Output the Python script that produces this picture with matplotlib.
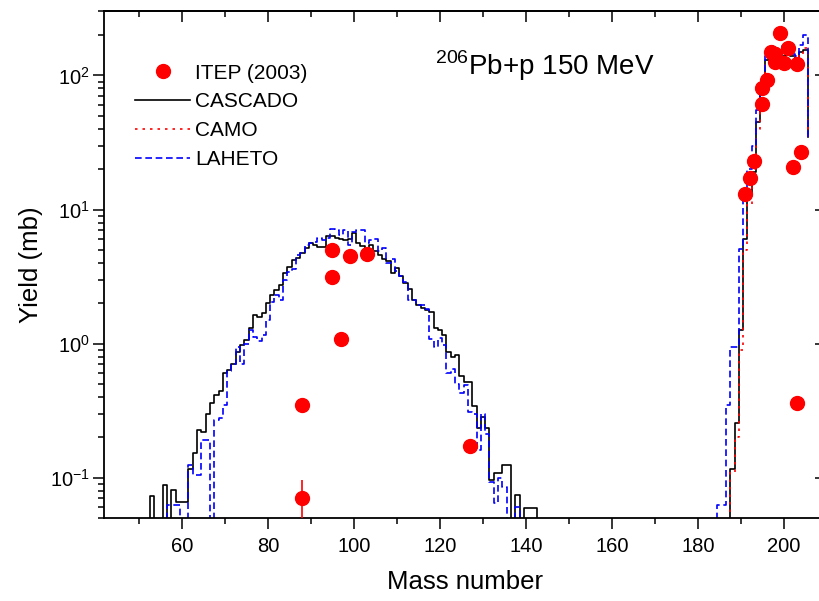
import numpy as np
import matplotlib
matplotlib.use("Agg")
import matplotlib.pyplot as plt
from matplotlib.ticker import LogLocator, MultipleLocator, NullFormatter

plt.rcParams["font.family"] = ["Liberation Sans", "DejaVu Sans"]
plt.rcParams["axes.unicode_minus"] = False

# ITEP (2003) measured yields, mass number / mb
itep_mass = [88, 88, 95, 95, 97, 99, 103, 127,
             191, 192, 193, 195, 195, 196, 197, 198, 198, 199, 200, 201, 202, 203, 203, 204]
itep_yield = [0.35, 0.07, 4.98, 3.13, 1.08, 4.5, 4.65, 0.172,
              13.0, 17.3, 23.0, 61.0, 81.0, 92.0, 150.0, 145.0, 127.0, 209.0, 123.0, 161.0,
              20.8, 121.0, 0.36, 26.7]
err_mass = [88]
err_yield = [0.07]
err_low = [0.069]
err_high = [0.026]

# fission region, bins centred on integer masses starting at 52
fis_start = 52
cascado_fis = [0, 0.073, 0, 0, 0.088, 0, 0.081, 0.066, 0.066, 0.066,
               0.117, 0.152, 0.226, 0.22, 0.30, 0.36, 0.41, 0.44, 0.60, 0.635,
               0.71, 0.87, 0.975, 1.06, 1.30, 1.63, 1.59, 1.70, 2.0, 2.3,
               2.5, 2.73, 3.34, 3.74, 4.2, 4.32, 4.71, 5.13, 5.59, 5.4,
               5.27, 5.27, 6.34, 6.34, 6.1, 6.0, 5.9, 6.0, 6.7, 5.59,
               5.3, 4.71, 5.4, 4.9, 4.6, 4.25, 4.1, 3.34, 3.64, 3.2,
               2.82, 2.54, 2.11, 1.94, 1.83, 1.78, 1.73, 1.30, 1.26, 1.15,
               0.87, 0.80, 0.82, 0.57, 0.52, 0.52, 0.34, 0.233, 0.284, 0.233,
               0.096, 0.108, 0.108, 0.124, 0.124, 0, 0.074, 0, 0.059, 0.059,
               0.059, 0]
laheto_fis = [0, 0, 0, 0, 0, 0.062, 0.062, 0.062, 0, 0,
              0.125, 0.105, 0.105, 0.19, 0.19, 0, 0.27, 0.28, 0.35, 0.62,
              0.70, 0.95, 0.70, 1.0, 1.26, 1.12, 1.05, 1.15, 1.5, 2.05,
              2.3, 2.1, 2.98, 3.4, 3.6, 4.57, 4.7, 5.4, 5.6, 5.7,
              6.1, 5.9, 6.1, 7.1, 7.0, 6.4, 7.0, 5.4, 6.8, 7.0,
              7.0, 5.6, 5.9, 6.0, 4.9, 5.15, 4.0, 4.3, 3.5, 3.2,
              2.9, 2.1, 2.1, 1.94, 1.94, 1.82, 1.09, 0.95, 1.1, 0.97,
              0.6, 0.65, 0.5, 0.43, 0.49, 0.31, 0.30, 0.16, 0.30, 0.21,
              0.093, 0.065, 0.10, 0.085, 0, 0, 0.06, 0]

# spallation region, bins from mass 184 (last entry: value after the final edge)
spal_start = 184
cascado_spal = [0, 0, 0, 0, 0.117, 0.257, 1.26, 6.0, 13.2, 19.0,
                45.0, 78.0, 131.0, 156.0, 150.0, 145.0, 140.0, 145.0, 140.0, 130.0,
                150.0, 155.0, 35.0]
camo_spal = [0, 0, 0, 0, 0.11, 0.2, 0.9, 5.0, 11.0, 20.0,
             40.0, 75.0, 120.0, 150.0, 160.0, 150.0, 145.0, 150.0, 140.0, 135.0,
             145.0, 160.0, 35.0]
laheto_spal = [0, 0.063, 0.063, 0.35, 0.95, 0.95, 5.1, 12.0, 20.0, 30.0,
               55.0, 85.0, 140.0, 165.0, 160.0, 150.0, 165.0, 155.0, 145.0, 140.0,
               170.0, 200.0, 35.0]


def left_edges(start, vals):
    return np.arange(len(vals)) + start - 0.5


fig = plt.figure(figsize=(8.2, 6.01), dpi=100)
ax = fig.add_axes([0.1268, 0.1381, 0.8805, 0.8428])
ax.set_yscale("log", nonpositive="clip")

ax.plot(left_edges(fis_start, cascado_fis), cascado_fis, drawstyle="steps-post",
        color="black", lw=1.2, label="CASCADO")
ax.plot(left_edges(fis_start, laheto_fis), laheto_fis, drawstyle="steps-post",
        color="blue", lw=1.2, ls=(0, (4, 2.2)))
ax.plot(left_edges(spal_start, cascado_spal), cascado_spal, drawstyle="steps-post",
        color="black", lw=1.2)
ax.plot(left_edges(spal_start, camo_spal), camo_spal, drawstyle="steps-post",
        color="red", lw=1.2, ls=(0, (1.5, 3)), label="CAMO")
ax.plot(left_edges(spal_start, laheto_spal), laheto_spal, drawstyle="steps-post",
        color="blue", lw=1.2, ls=(0, (4, 2.2)), label="LAHETO")

ax.errorbar(err_mass, err_yield, yerr=[err_low, err_high], fmt="none",
            ecolor="red", elinewidth=1.2, capsize=0, zorder=4)
ax.plot(itep_mass, itep_yield, "o", color="red", ms=10, mec="red",
        ls="none", label="ITEP (2003)", zorder=5)

ax.set_xlim(41.86, 209.77)
ax.set_ylim(0.05, 300)

ax.xaxis.set_major_locator(MultipleLocator(20))
ax.xaxis.set_minor_locator(MultipleLocator(10))
ax.yaxis.set_major_locator(LogLocator(base=10))
ax.yaxis.set_minor_locator(LogLocator(base=10, subs=np.arange(2, 10)))
ax.yaxis.set_minor_formatter(NullFormatter())

ax.tick_params(which="both", direction="out", labelsize=14.5, width=1.1)
ax.tick_params(axis="x", which="both", pad=6)
ax.tick_params(axis="y", which="both", pad=2)
ax.tick_params(which="major", length=8)
ax.tick_params(which="minor", length=4)
for s in ax.spines.values():
    s.set_linewidth(1.3)

# mirrored ticks pointing inward on top and right
top = ax.secondary_xaxis("top")
top.xaxis.set_major_locator(MultipleLocator(20))
top.xaxis.set_minor_locator(MultipleLocator(10))
top.tick_params(which="both", direction="in", labeltop=False, width=1.1)
top.tick_params(which="major", length=8)
top.tick_params(which="minor", length=4)
top.spines["top"].set_linewidth(1.3)
right = ax.secondary_yaxis("right")
right.yaxis.set_major_locator(LogLocator(base=10))
right.yaxis.set_minor_locator(LogLocator(base=10, subs=np.arange(2, 10)))
right.tick_params(which="both", direction="in", labelright=False, width=1.1)
right.tick_params(which="major", length=8)
right.tick_params(which="minor", length=4)

ax.set_xlabel("Mass number", fontsize=18.5, labelpad=10)
ax.set_ylabel("Yield (mb)", fontsize=18.5, labelpad=5)

ax.text(0.458, 0.8746, r"$^{\mathdefault{206}}$Pb+p 150 MeV", transform=ax.transAxes,
        fontsize=20, va="baseline", ha="left")

h, l = ax.get_legend_handles_labels()
order = [l.index(n) for n in ["ITEP (2003)", "CASCADO", "CAMO", "LAHETO"]]
ax.legend([h[i] for i in order], [l[i] for i in order], loc="upper left",
          bbox_to_anchor=(0.043, 0.897), frameon=False, fontsize=15,
          handlelength=2.65, handletextpad=0.25, labelspacing=0.47,
          borderaxespad=0, borderpad=0)

fig.savefig("out.png", dpi=100)
